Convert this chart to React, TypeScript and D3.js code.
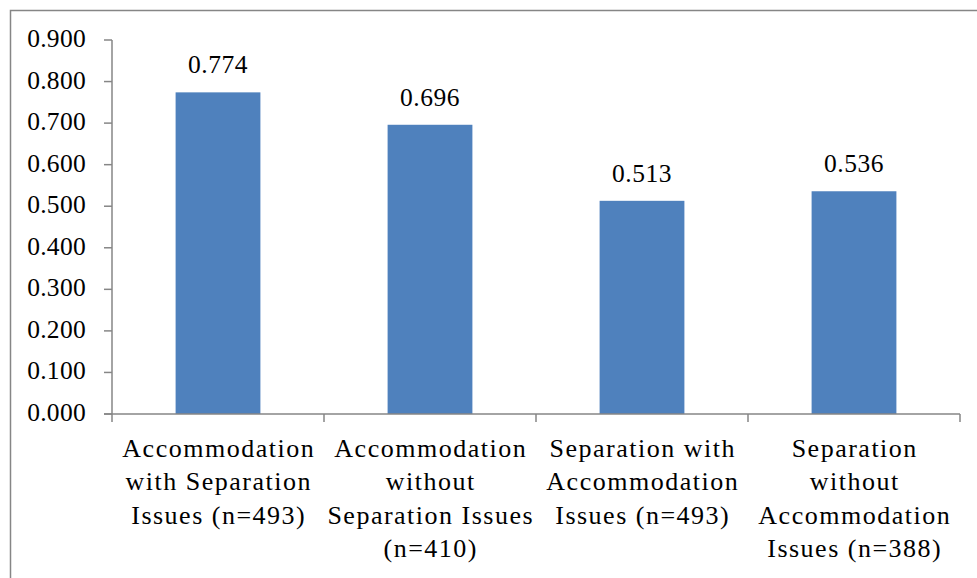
import React from "react";
import * as d3 from "d3";

const categoryLines: string[][] = [
  ["Accommodation", "with Separation", "Issues (n=493)"],
  ["Accommodation", "without", "Separation Issues", "(n=410)"],
  ["Separation with", "Accommodation", "Issues (n=493)"],
  ["Separation", "without", "Accommodation", "Issues (n=388)"],
];
const values: number[] = [0.774, 0.696, 0.513, 0.536];
const yTicks: number[] = [0, 0.1, 0.2, 0.3, 0.4, 0.5, 0.6, 0.7, 0.8, 0.9];

const W = 977;
const H = 578;
const FONT = "'Liberation Serif', 'Times New Roman', serif";

export default function App() {
  const x = d3
    .scaleBand<number>()
    .domain(values.map((_, i) => i))
    .range([112, 960])
    .paddingInner(0.6)
    .paddingOuter(0.3);
  const y = d3.scaleLinear().domain([0, 0.9]).range([414, 40]);
  const step = (960 - 112) / values.length;
  const axisColor = "#868686";
  const fmt = d3.format(".3f");

  return (
    <svg
      width={W}
      height={H}
      style={{ position: "absolute", left: 0, top: 0, background: "#fff" }}
      fontFamily={FONT}
    >
      <rect x={0} y={0} width={W} height={H} fill="#fff" />
      {/* outer frame */}
      <path d={`M10.5,${H + 5} V10.5 H${W + 5}`} fill="none" stroke={axisColor} strokeWidth={1.5} />
      {/* bars */}
      {values.map((v, i) => (
        <rect
          key={i}
          x={x(i)}
          y={y(v)}
          width={x.bandwidth()}
          height={y(0) - y(v)}
          fill="#4F81BD"
        />
      ))}
      {/* data labels */}
      {values.map((v, i) => (
        <text
          key={"l" + i}
          x={(x(i) as number) + x.bandwidth() / 2}
          y={y(v) - 19}
          textAnchor="middle"
          fontSize={25.5}
          letterSpacing={0.5}
          fill="#000"
        >
          {fmt(v)}
        </text>
      ))}
      {/* y axis */}
      <line x1={112} x2={112} y1={y(0.9)} y2={y(0)} stroke={axisColor} strokeWidth={1.5} />
      {yTicks.map((t) => (
        <g key={t}>
          <line x1={104} x2={112} y1={y(t)} y2={y(t)} stroke={axisColor} strokeWidth={1.5} />
          <text x={86} y={y(t) + 7} textAnchor="end" fontSize={25.5} letterSpacing={0.3} fill="#000">
            {fmt(t)}
          </text>
        </g>
      ))}
      {/* x axis */}
      <line x1={104} x2={960} y1={y(0)} y2={y(0)} stroke={axisColor} strokeWidth={1.5} />
      {d3.range(values.length + 1).map((k) => (
        <line
          key={"t" + k}
          x1={112 + k * step}
          x2={112 + k * step}
          y1={y(0)}
          y2={y(0) + 8}
          stroke={axisColor}
          strokeWidth={1.5}
        />
      ))}
      {categoryLines.map((lines, i) => (
        <text
          key={"c" + i}
          x={112 + step * (i + 0.5)}
          y={457}
          textAnchor="middle"
          fontSize={26}
          letterSpacing={1.5}
          fill="#000"
        >
          {lines.map((ln, j) => (
            <tspan key={j} x={112 + step * (i + 0.5) + 0.75} dy={j === 0 ? 0 : 33.3}>
              {ln}
            </tspan>
          ))}
        </text>
      ))}
    </svg>
  );
}
